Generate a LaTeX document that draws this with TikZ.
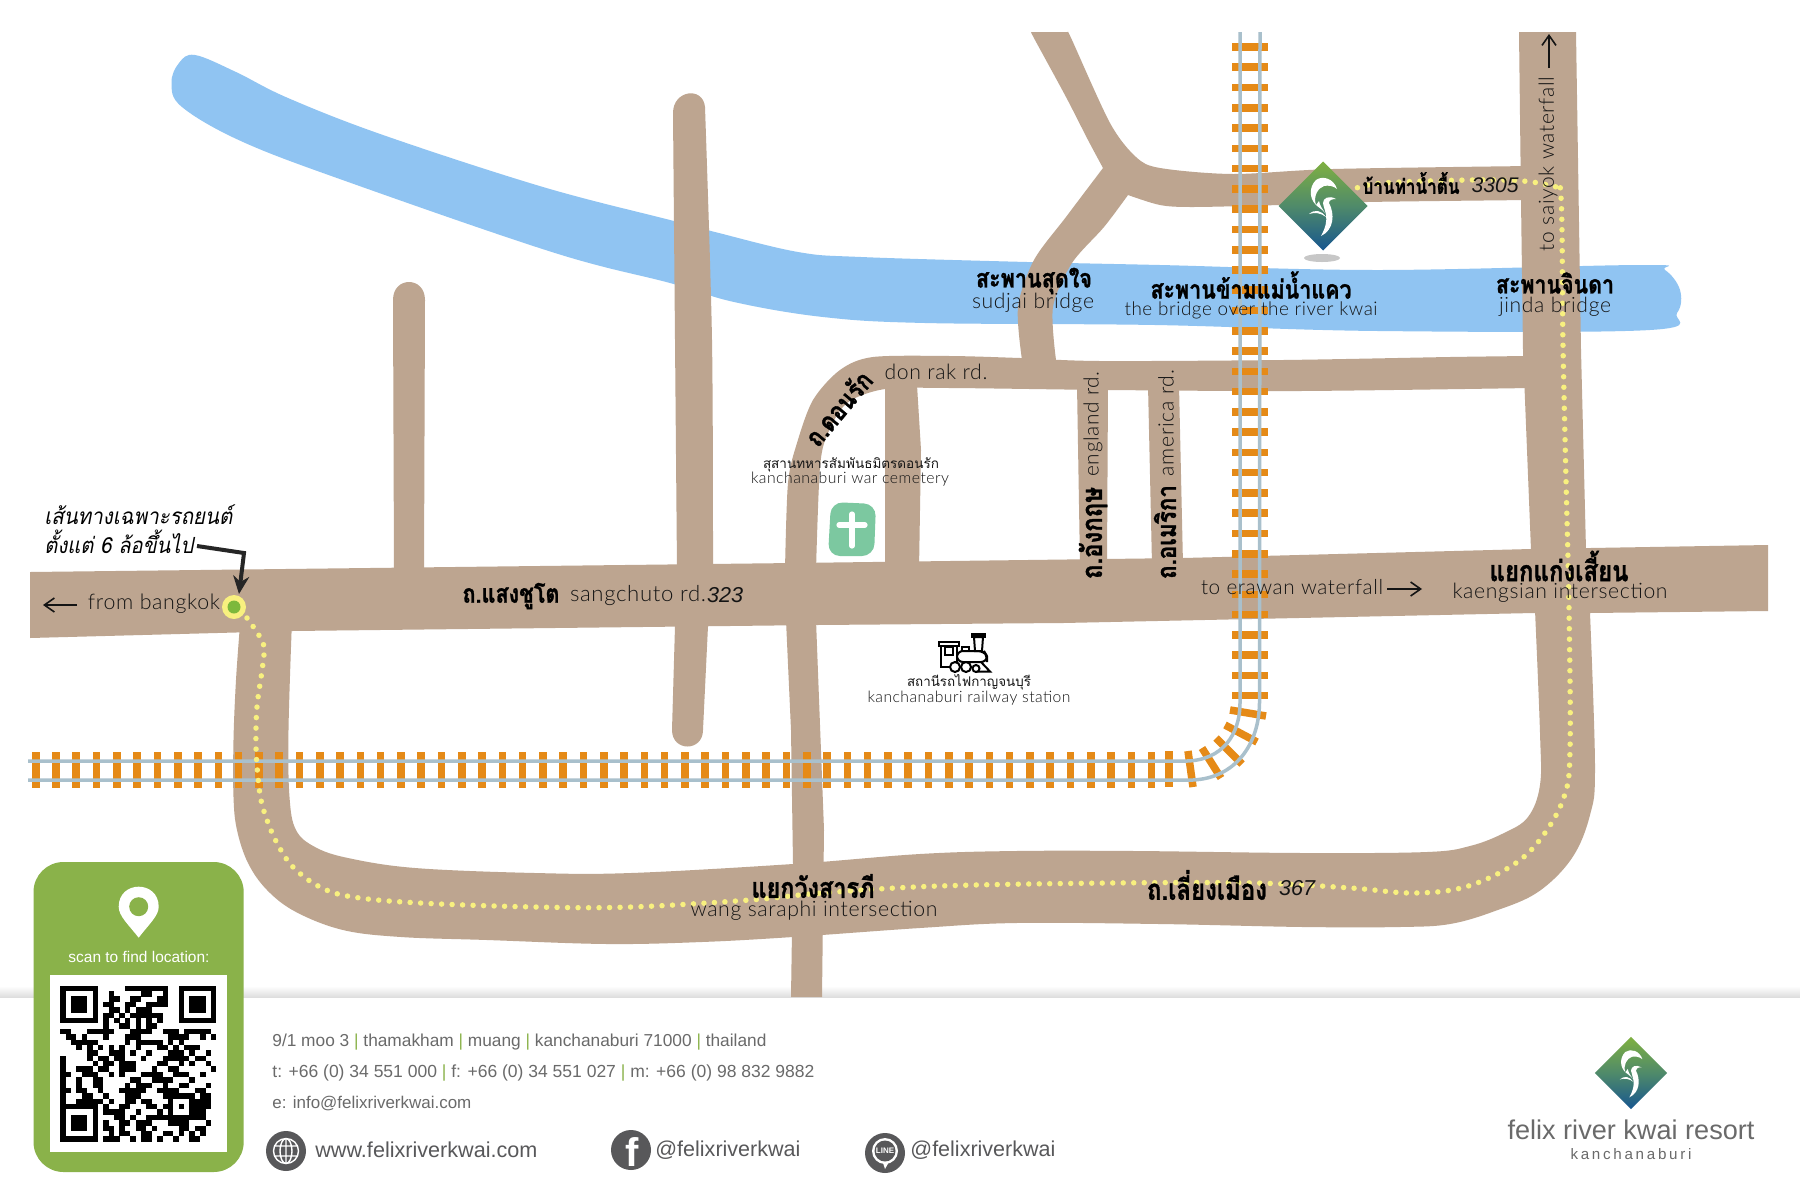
\documentclass[tikz,border=0pt]{standalone}
\usepackage{fontspec}
\usepackage{graphicx}
\usetikzlibrary{arrows.meta}
\setmainfont{Liberation Sans}
\newfontfamily\lbl[LetterSpace=3]{Lato Light}
\newfontfamily\thaib[Script=Thai,BoldFeatures={FakeBold=1.2}]{Loma}
\definecolor{roadc}{HTML}{BDA590}
\definecolor{riverc}{HTML}{90C4F2}
\definecolor{tiec}{HTML}{E58A17}
\definecolor{railc}{HTML}{A9C0CC}
\definecolor{dotc}{HTML}{F8F07F}
\definecolor{cardc}{HTML}{8AB24A}
\definecolor{iconc}{HTML}{58585A}
\definecolor{foot}{HTML}{6A6A6A}
\definecolor{inkc}{HTML}{141414}
\definecolor{crossc}{HTML}{7CC8A0}
\definecolor{markc}{HTML}{7DB83C}
\newlength\pxu \setlength\pxu{0.5pt}
\newcommand\W[2]{\resizebox{#1\pxu}{!}{#2}}
\newcommand\THL[2]{\resizebox{#1\pxu}{!}{\scalebox{1}[1.2]{\thaib\bfseries #2}}}
\newcommand\LB[2]{\resizebox{#1\pxu}{!}{\lbl #2}}
\newcommand\sepbar{\textcolor{cardc}{|}}
\newcount\qrc
\def\qrparse#1{\ifx#1\relax\else\if#11\fill[black] ({60.3+5.38*\the\qrc},{985.7+5.38*\qrr}) rectangle ++(5.42,5.42);\fi\advance\qrc by 1 \expandafter\qrparse\fi}
\newcommand\qrrow[2]{\def\qrr{#1}\qrc=0 \qrparse#2\relax}
\newcommand\qrfinder[2]{%
  \fill[black] ({60.3+5.38*#1},{985.7+5.38*#2}) rectangle ++(37.66,37.66);
  \fill[white] ({60.3+5.38*(#1+1)},{985.7+5.38*(#2+1)}) rectangle ++(26.9,26.9);
  \fill[black] ({60.3+5.38*(#1+2)},{985.7+5.38*(#2+2)}) rectangle ++(16.14,16.14);}
\definecolor{logoG}{HTML}{7FB041}
\definecolor{logoM}{HTML}{4F8A6A}
\definecolor{logoB}{HTML}{17568F}
\newcommand\felixlogo[3]{%
  \begin{scope}[shift={(#1,#2)},scale=#3]
    \shade[top color=logoG,bottom color=logoB,middle color=logoM] (0,-44.5) -- (44.5,0) -- (0,44.5) -- (-44.5,0) -- cycle;
    \fill[white] (14,-17) .. controls (11,-27) and (0,-31) .. (-7,-26) .. controls (-14,-19) and (-14,-8) .. (-7,-1) .. controls (-10,-10) and (-5,-18) .. (1,-20) .. controls (5,-21) and (11,-20) .. (14,-17) -- cycle;
    \fill[white] (13,-7) .. controls (6,-11) and (0,-8) .. (0,-3) .. controls (1,5) and (8,12) .. (-2,30) .. controls (11,24) and (12,8) .. (6,-3) .. controls (6,-6) and (9,-7) .. (13,-7) -- cycle;
    \fill[white] (-14,8) .. controls (-8,3) and (-2,4) .. (3,11) .. controls (-2,7) and (-8,6) .. (-14,8) -- cycle;
    \fill[white] (-7,-1) .. controls (-5,1) and (-1,3) .. (2,7) .. controls (-1,2) and (-3,0) .. (-4,-5) -- cycle;
  \end{scope}}
\tikzset{
  road/.style={fill=roadc},
  tie/.style={fill=tiec},
  tiec2/.style={draw=tiec,line width=3.75pt},
  rail/.style={draw=railc,line width=1.75pt},
  route/.style={draw=dotc,line width=2.75pt,line cap=round,dash pattern=on 0pt off 5.25pt},
  lab/.style={inner sep=0pt,text=inkc},
  thl/.style={inner sep=0pt,text=black},
  flab/.style={inner sep=0pt,anchor=west,text=foot},
  sharr/.style={draw=inkc,line width=0.8pt,-{Straight Barb[length=5pt,width=7pt]}},
}
\begin{document}
\begin{tikzpicture}[x=0.5pt,y=-0.5pt]
\useasboundingbox (0,0) rectangle (1800,1200);
\fill[white] (0,0) rectangle (1800,1200);
% footer shadow
\shade[top color=white,bottom color=black!13] (0,986) rectangle (1800,997);
% river
\fill[riverc] plot[smooth cycle,tension=0.6] coordinates {(195,55) (236,72) (288,98) (383,135) (543,187) (670,220) (715,232) (798,252) (861,257) (1027,262) (1160,265) (1378,270) (1642,265) (1665,270) (1680,290) (1677,313) (1650,330) (1378,331) (1155,325) (925,323) (823,317) (734,302) (670,283) (555,253) (351,183) (243,142) (182,107) (171.5,83) (179,63)};
% roads
\fill[road] (30,572) -- (794,563) -- (1183,558) -- (1531,549) -- (1768,545) -- (1768,611) -- (1590,613) -- (1534,613) -- (1063,623) -- (817,625) -- (292,631) -- (30,638) -- cycle;
\fill[road] (393,300) .. controls (393,276) and (425,276) .. (425,300) -- (424,570) -- (394,570) -- cycle;
\fill[road] plot[smooth] coordinates {(673,113) (675,340) (677,570)} -- (675,626) -- (672,730) .. controls (672,752) and (703,752) .. (703,730) -- (708,626) -- plot[smooth] coordinates {(713,570) (712,340) (705,107)} .. controls (703,86) and (673,90) .. (673,113) -- cycle;
\fill[road] plot[smooth] coordinates {(785,570) (788,483) (797,443) (813,400) (840,370) (873,357) (950,356) (1020,358) (1100,361) (1283,360) (1450,357) (1530,356)} -- (1530,388) -- plot[smooth] coordinates {(1530,388) (1300,391) (1108,390) (950,388) (885,389) (847,403) (828,433) (820,467) (816,570)} -- cycle;
\fill[road] (885,385) -- (917,385) -- (921,450) -- (919,570) -- (885,570) -- cycle;
\fill[road] (786,620) -- (816,620) -- (824,830) -- (822,997) -- (791,997) -- (793,864) -- (791,730) -- cycle;
\fill[road] plot[smooth] coordinates {(1031,32) (1035,40) (1066,97) (1088,140) (1103,168)} -- plot[smooth] coordinates {(1103,168) (1066,217) (1034,260) (1018,307) (1022,360)} -- (1056,360) -- plot[smooth] coordinates {(1056,360) (1053,307) (1072,263) (1104,227) (1128,195)} -- plot[smooth] coordinates {(1128,195) (1160,205) (1193,207) (1280,205) (1367,202) (1530,200)} -- (1530,166) -- plot[smooth] coordinates {(1530,166) (1333,169) (1233,174) (1160,168) (1136,157) (1110,123) (1072,40) (1068,32)} -- cycle;
\fill[road] (1519,32) -- (1576,32) -- (1581,350) -- (1586,550) -- (1531,550) -- (1523,350) -- (1521,200) -- cycle;
\fill[road] (1077,385) -- (1108,385) -- (1107,565) -- (1080,565) -- cycle;
\fill[road] (1148,385) -- (1179,385) -- (1183,565) -- (1152,565) -- cycle;
% ring road
\fill[road] plot[smooth,tension=0.6] coordinates {(240,625) (236,680) (233.5,740) (233.5,797) (237,830) (248,863) (267,890) (296,912) (343,930) (401,937) (487,940) (607,944) (702,942) (793,937) (920,928) (1016,923) (1159,924) (1303,927) (1400,927) (1450,924) (1495,911) (1538,892) (1572,858) (1590,815) (1595,767) (1590,613)} -- plot[smooth,tension=0.6] coordinates {(1535,610) (1540,733) (1540,785) (1528,817) (1504,833) (1470,846) (1427,852) (1303,853) (1135,851) (1016,851) (920,854) (793,864) (631,873) (535,873) (415,868) (348,858) (315,847) (296,830) (289.5,797) (288.5,730) (292,620)} -- cycle;
% railway
\foreach \k in {0,...,55} \fill[tie] ({31.9+20.29*\k},752) rectangle ++(7.6,36);
\fill[tie] (1165,751) rectangle ++(8,36);
\foreach \k in {0,...,32} \fill[tie] (1232,{43.2+20.27*\k}) rectangle ++(36,7.6);
\draw[tiec2] (1230,710) -- (1266,716);
\draw[tiec2] (1225,725) -- (1257,742);
\draw[tiec2] (1216,738) -- (1242,764);
\draw[tiec2] (1202,748) -- (1221,778);
\draw[tiec2] (1188,751) -- (1193,787);
\draw[rail] (28,761) -- (1187,761) .. controls (1222,760) and (1240,735) .. (1240,703) -- (1240,32);
\draw[rail] (28,780) -- (1193,780) .. controls (1235,778) and (1259,745) .. (1259.5,703) -- (1260,32);
% route
\draw[route] plot[smooth,tension=0.6] coordinates {(247,618) (263,643) (263,663) (257,707) (256,747) (258,777) (261,800) (267,820) (277,843) (293,867) (320,887) (353,897) (420,903) (535,907) (631,907) (750,900) (822,893) (939,886) (1111,883) (1255,883) (1351,888) (1413,893) (1465,887) (1513,865) (1542,837) (1564,797) (1570,750) (1569,608) (1566,480) (1563,345) (1561,197) (1553,187) (1523,181) (1470,180) (1383,183) (1354,189)};
% marker
\node[circle,fill=dotc,minimum size=12pt,inner sep=0pt] (start) at (234,607) {};
\node[circle,fill=markc,minimum size=6.5pt,inner sep=0pt] (startin) at (234,607) {};
% note
\node[inner sep=0pt,anchor=west,text=black] (note1) at (44,515) {\resizebox{188\pxu}{!}{\scalebox{1}[1.1]{\thaib\itshape เส้นทางเฉพาะรถยนต์}}};
\node[inner sep=0pt,anchor=west,text=black] (note2) at (44,542) {\resizebox{149\pxu}{!}{\scalebox{1}[1.1]{\thaib\itshape ตั้งแต่ 6 ล้อขึ้นไป}}};
\coordinate (noteA) at (197,546);
\coordinate (noteB) at (244,553);
\coordinate (noteC) at (239,594);
\draw[black!85,line width=2pt,-{Stealth[length=9pt,width=8pt]}] (noteA) -- (noteB) -- (noteC);
% labels
\node[lab] (bkk) at (154,604) {\LB{132}{from bangkok}};
\coordinate (bkkA) at (77,605); \coordinate (bkkB) at (43,605);
\draw[sharr] (bkkA) -- (bkkB);
\node[thl] (sgt) at (511,596) {\THL{97}{ถ.แสงชูโต}};
\node[lab] (sge) at (638,595) {\LB{136}{sangchuto rd.}};
\node[lab] (n323) at (725,595) {\W{36}{\itshape 323}};
\node[lab] (drk) at (936,372) {\LB{103}{don rak rd.}};
\node[thl,rotate=50] (drt) at (838,408) {\THL{88}{ถ.ดอนรัก}};
\node[lab] (cem1) at (851,465) {\resizebox{176\pxu}{!}{\thaib สุสานทหารสัมพันธมิตรดอนรัก}};
\node[lab] (cem2) at (850,479) {\LB{198}{kanchanaburi war cemetery}};
\fill[crossc,rounded corners=6pt] (831,502) -- (876,504) -- (874,556) -- (828,556) -- cycle;
\draw[white,line width=2.6pt,line cap=round] (852,514) -- (852,546) (839,525) -- (865,525);
\node[thl,rotate=90] (ent) at (1093,533) {\THL{92}{ถ.อังกฤษ}};
\node[lab,rotate=90] (ene) at (1093,424) {\LB{105}{england rd.}};
\node[thl,rotate=90] (amt) at (1165,532) {\THL{94}{ถ.อเมริกา}};
\node[lab,rotate=90] (ame) at (1166,423) {\LB{106}{america rd.}};
\node[lab] (era) at (1292,587) {\LB{182}{to erawan waterfall}};
\coordinate (eraA) at (1387,589); \coordinate (eraB) at (1422,589);
\draw[sharr] (eraA) -- (eraB);
\node[thl] (kst) at (1559,566) {\THL{139}{แยกแก่งเสี้ยน}};
\node[lab] (kse) at (1560,593) {\LB{215}{kaengsian intersection}};
\node[lab] (stt) at (969,682) {\resizebox{124\pxu}{!}{\thaib สถานีรถไฟกาญจนบุรี}};
\node[lab] (ste) at (969,698) {\LB{203}{kanchanaburi railway station}};
\node[thl] (wst) at (813,886) {\THL{123}{แยกวังสารภี}};
\node[lab] (wse) at (814,911) {\LB{247}{wang saraphi intersection}};
\node[thl] (lmt) at (1207,885) {\THL{120}{ถ.เลี่ยงเมือง}};
\node[lab] (n367) at (1297,888) {\W{36}{\itshape 367}};
\node[thl] (sjt) at (1034,281) {\THL{116}{สะพานสุดใจ}};
\node[lab] (sje) at (1033,303) {\LB{122}{sudjai bridge}};
\node[thl] (kwt) at (1251,285) {\THL{201}{สะพานข้ามแม่น้ำแคว}};
\node[lab] (kwe) at (1251,310) {\LB{253}{the bridge over the river kwai}};
\node[thl] (jdt) at (1555,283) {\THL{118}{สะพานจินดา}};
\node[lab] (jde) at (1555,307) {\LB{112}{jinda bridge}};
\node[thl] (btt) at (1411,183) {\THL{97}{บ้านท่าน้ำตื้น}};
\node[lab] (n3305) at (1495,185) {\W{47}{\itshape 3305}};
\node[lab,rotate=90] (syk) at (1548,164) {\LB{174}{to saiyok waterfall}};
\coordinate (sykA) at (1549,68); \coordinate (sykB) at (1549,34);
\draw[sharr] (sykA) -- (sykB);
% train
\begin{scope}[draw=black,line width=1pt]
\draw (939,642) rectangle (959,645.5);
\draw (941,645.5) rectangle (957,667);
\draw (945,647) rectangle (953,655);
\draw[rounded corners=3pt,fill=white] (957,651) -- (984,651) -- (987,656) -- (987,662) -- (957,662) -- cycle;
\draw[fill=white] (974,637) -- (983,637) -- (982,651) -- (975,651) -- cycle;
\draw[fill=black] (972,634) rectangle (985,637);
\draw (962,651) -- (962,647) -- (969,647) -- (969,651);
\draw (981,662) -- (990,671.5) -- (975,671.5);
\draw[fill=white] (955,667) circle[radius=5];
\draw[fill=white] (966,667) circle[radius=5];
\draw[fill=white] (976,668.5) circle[radius=3.5];
\end{scope}
% resort logo on map
\fill[black!22] (1322,258) ellipse[x radius=18,y radius=4];
\felixlogo{1323}{206}{1}
% card
\fill[cardc,rounded corners=15pt] (33.5,862) rectangle (243.7,1172);
\fill[white] (138.7,937.7) .. controls (128,924) and (118.7,916) .. (118.7,906.7) .. controls (118.7,880) and (158.7,880) .. (158.7,906.7) .. controls (158.7,916) and (149,924) .. (138.7,937.7) -- cycle;
\fill[cardc] (138.7,906.7) circle[radius=9.5];
\node[inner sep=0pt,text=white] (scan) at (139,956.5) {\W{141}{scan to find location:}};
\fill[white] (50,975) rectangle (227,1152);
\qrrow{0}{00000 00000 00111 11111 00000 0000}
\qrrow{1}{00000 00001 00000 11001 00000 0000}
\qrrow{2}{00000 00001 10011 00011 00000 0000}
\qrrow{3}{00000 00011 00110 01111 00000 0000}
\qrrow{4}{00000 00001 10101 11000 00000 0000}
\qrrow{5}{00000 00011 01011 11110 00000 0000}
\qrrow{6}{00000 00010 10101 01010 00000 0000}
\qrrow{7}{00000 00010 01101 01100 00000 0000}
\qrrow{8}{11000 11111 00011 11001 11011 1110}
\qrrow{9}{01101 00010 00111 00000 11110 0101}
\qrrow{10}{00111 11000 00101 11110 10100 0000}
\qrrow{11}{00010 10101 01001 00011 01011 1000}
\qrrow{12}{00000 11001 11010 01000 11101 0010}
\qrrow{13}{10000 10110 11000 10001 11110 1100}
\qrrow{14}{10000 01011 01110 00011 00101 0010}
\qrrow{15}{10011 10110 01110 00100 11000 0001}
\qrrow{16}{11001 11001 01000 11110 01110 0100}
\qrrow{17}{10010 01100 00011 00111 10001 0000}
\qrrow{18}{10010 01100 00101 11001 00110 0010}
\qrrow{19}{11011 00100 01111 10011 11000 1100}
\qrrow{20}{10001 10010 00111 00001 01100 0110}
\qrrow{21}{10011 11101 00110 11000 01011 1110}
\qrrow{22}{00000 00010 01100 01101 11111 1110}
\qrrow{23}{00000 00011 11001 00010 00001 1100}
\qrrow{24}{00000 00000 11010 01111 00111 1100}
\qrrow{25}{00000 00010 01101 11000 11110 0010}
\qrrow{26}{00000 00011 01001 10100 00110 1100}
\qrrow{27}{00000 00001 01100 11001 10101 0100}
\qrrow{28}{00000 00011 10010 11010 01001 1000}
\qrfinder{0}{0}
\qrfinder{22}{0}
\qrfinder{0}{22}
% alignment pattern
\fill[black] ({60.3+5.38*20},{985.7+5.38*20}) rectangle ++(26.9,26.9);
\fill[white] ({60.3+5.38*21},{985.7+5.38*21}) rectangle ++(16.14,16.14);
\fill[black] ({60.3+5.38*22},{985.7+5.38*22}) rectangle ++(5.38,5.38);
% footer text
\node[flab] (ad1) at (272,1042) {\W{494}{9/1 moo 3 \sepbar{} thamakham \sepbar{} muang \sepbar{} kanchanaburi 71000 \sepbar{} thailand}};
\node[flab] (ad2) at (272,1073) {\W{542}{t: +66 (0) 34 551 000 \sepbar{} f: +66 (0) 34 551 027 \sepbar{} m: +66 (0) 98 832 9882}};
\node[flab] (ad3) at (272,1104) {\W{199}{e: info@felixriverkwai.com}};
% web
\fill[iconc] (286,1151) circle[radius=20];
\draw[white,line width=0.7pt] (286,1151) circle[radius=12.5] (286,1151) ellipse[x radius=6,y radius=12.5] (286,1138.5) -- (286,1163.5) (274.5,1146) -- (297.5,1146) (274.5,1156) -- (297.5,1156);
\node[flab,text=iconc] (web) at (315,1150) {\W{222}{www.felixriverkwai.com}};
% facebook
\fill[iconc] (631,1150) circle[radius=20];
\node[inner sep=0pt,text=white,font=\bfseries\fontsize{20}{20}\selectfont] (fbf) at (632,1152) {f};
\node[flab,text=iconc] (fbt) at (655,1150) {\W{145}{@felixriverkwai}};
% line
\fill[iconc] (885,1153) circle[radius=20];
\fill[white] (885,1151) circle[radius=13];
\fill[white] (882,1160) -- (890,1160) -- (885,1169) -- cycle;
\fill[iconc] (885,1151) circle[radius=10.5];
\node[inner sep=0pt,text=white,font=\bfseries\fontsize{4}{4}\selectfont] (lnt) at (885,1151) {LINE};
\node[flab,text=iconc] (lnn) at (910,1150) {\W{145}{@felixriverkwai}};
% footer logo
\felixlogo{1631}{1073}{0.81}
\node[inner sep=0pt,text=foot] (brand) at (1631,1130) {\W{247}{felix river kwai resort}};
\node[inner sep=0pt,text=foot] (brand2) at (1631,1154.5) {\resizebox{121\pxu}{!}{\addfontfeatures{LetterSpace=18}kanchanaburi}};
\end{tikzpicture}
\end{document}
